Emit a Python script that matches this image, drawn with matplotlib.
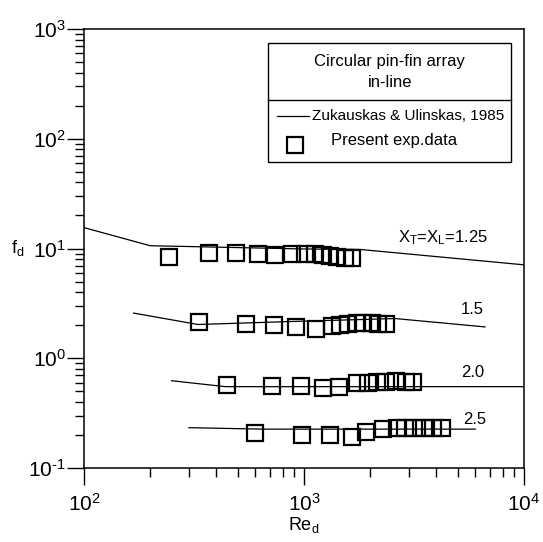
import numpy as np
import matplotlib.pyplot as plt
from matplotlib.patches import Rectangle
from matplotlib.lines import Line2D
from matplotlib.ticker import LogLocator, FuncFormatter
plt.switch_backend('agg')

plt.rcParams['font.family'] = ['Liberation Sans', 'DejaVu Sans']
plt.rcParams['mathtext.fontset'] = 'custom'
plt.rcParams['mathtext.rm'] = 'Liberation Sans'
plt.rcParams['mathtext.it'] = 'Liberation Sans'
plt.rcParams['mathtext.default'] = 'regular'
plt.rcParams['axes.unicode_minus'] = False


# experimental points, X_T = X_L = 1.25
re_125 = [243, 370, 493, 618, 738, 882, 1011, 1123, 1220, 1313, 1413, 1536, 1653]
f_125 = [8.41, 9.10, 9.10, 8.91, 8.73, 9.0, 8.91, 8.82, 8.73, 8.63, 8.38, 8.19, 8.19]

# X = 1.5
re_15 = [333, 543, 734, 918, 1135, 1341, 1457, 1585, 1742, 1855, 2037, 2169, 2358]
f_15 = [2.15, 2.05, 2.01, 1.94, 1.84, 1.97, 2.01, 2.05, 2.09, 2.09, 2.09, 2.05, 2.05]

# X = 2.0
re_20 = [445, 713, 968, 1220, 1445, 1733, 1964, 2147, 2360, 2620, 2910, 3115]
f_20 = [0.571, 0.562, 0.559, 0.532, 0.551, 0.592, 0.599, 0.604, 0.611, 0.624, 0.611, 0.604]

# X = 2.5
re_25 = [597, 975, 1313, 1648, 1906, 2290, 2636, 2890, 3162, 3500, 3870, 4228]
f_25 = [0.207, 0.200, 0.198, 0.193, 0.211, 0.2255, 0.230, 0.230, 0.230, 0.233, 0.230, 0.230]

# Zukauskas & Ulinskas correlation curves
zu_re_125 = [100, 200, 1000, 1800, 10000]
zu_f_125 = [15.5, 10.6, 9.9, 9.8, 7.1]
zu_re_15 = [168, 330, 800, 2600, 6650]
zu_f_15 = [2.58, 2.03, 2.15, 2.3, 1.93]
zu_re_20 = [250, 440, 10000]
zu_f_20 = [0.624, 0.551, 0.551]
zu_re_25 = [300, 650, 6000]
zu_f_25 = [0.233, 0.226, 0.226]

fig = plt.figure(figsize=(5.43, 5.42), dpi=100)
ax = fig.add_axes([84 / 543, 1 - 468 / 542, 440 / 543, 439 / 542])

for re, f in [(zu_re_125, zu_f_125), (zu_re_15, zu_f_15),
              (zu_re_20, zu_f_20), (zu_re_25, zu_f_25)]:
    ax.plot(re, f, '-', color='k', lw=0.9)

mk = dict(marker='s', ls='none', ms=12, mfc='none', mec='k', mew=1.6)
for re, f in [(re_125, f_125), (re_15, f_15), (re_20, f_20), (re_25, f_25)]:
    ax.plot(re, f, **mk)

ax.set_xscale('log')
ax.set_yscale('log')
ax.set_xlim(1e2, 1e4)
ax.set_ylim(1e-1, 1e3)


def pow10(v, pos):
    e = int(round(np.log10(v)))
    return r'10$^{\text{%d}}$' % e


for axis in (ax.xaxis, ax.yaxis):
    axis.set_major_locator(LogLocator(base=10))
    axis.set_major_formatter(FuncFormatter(pow10))

for s in ax.spines.values():
    s.set_linewidth(1.1)

ax.tick_params(which='both', direction='out', top=False, right=False,
               labelsize=15, width=1.0)
ax.tick_params(which='major', length=12)
ax.tick_params(which='minor', length=6.5)
ax.tick_params(axis='y', which='major', pad=1)
ax.tick_params(axis='x', which='major', pad=6)

ax.set_xlabel(r'Re$_{\rm d}$', fontsize=13, labelpad=0)
ax.set_ylabel(r'f$_{\rm d}$', fontsize=13, rotation=0, va='center')
ax.yaxis.set_label_coords(-0.15, 0.5)

# curve labels
ax.text(0.714, 0.524, r'X$_{\rm T}$=X$_{\rm L}$=1.25', transform=ax.transAxes,
        fontsize=12, va='center')
ax.text(0.857, 0.362, '1.5', transform=ax.transAxes, fontsize=12, va='center')
ax.text(0.857, 0.2175, '2.0', transform=ax.transAxes, fontsize=12, va='center')
ax.text(0.862, 0.110, '2.5', transform=ax.transAxes, fontsize=12, va='center')

# legend box drawn by hand
ax.add_patch(Rectangle((0.418, 0.697), 0.552, 0.271, transform=ax.transAxes,
                       fill=False, ec='k', lw=1.0))
ax.add_line(Line2D([0.418, 0.970], [0.838, 0.838], transform=ax.transAxes,
                   color='k', lw=1.0))
ax.text(0.695, 0.926, 'Circular pin-fin array', transform=ax.transAxes,
        fontsize=12, ha='center', va='center')
ax.text(0.695, 0.879, 'in-line', transform=ax.transAxes,
        fontsize=12, ha='center', va='center')
ax.add_line(Line2D([0.439, 0.511], [0.802, 0.802], transform=ax.transAxes,
                   color='k', lw=0.9))
ax.text(0.518, 0.802, 'Zukauskas & Ulinskas, 1985', transform=ax.transAxes,
        fontsize=11, va='center')
ax.plot([0.48], [0.736], transform=ax.transAxes, **mk)
ax.text(0.561, 0.747, 'Present exp.data', transform=ax.transAxes,
        fontsize=12, va='center')

fig.savefig('out.png', dpi=100)
